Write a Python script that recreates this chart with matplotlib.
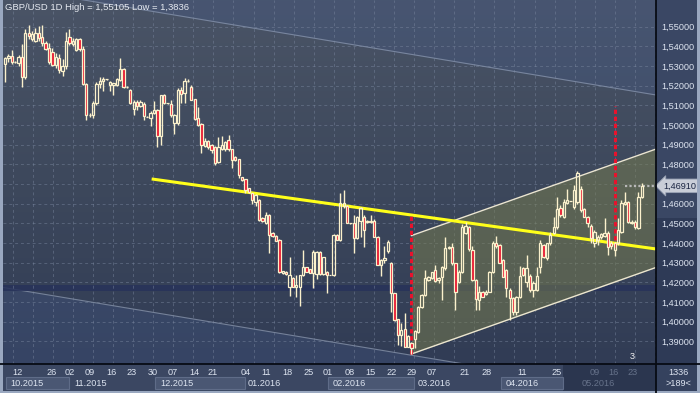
import matplotlib
matplotlib.use("Agg")
import matplotlib.pyplot as plt
import matplotlib.transforms as mtransforms
from matplotlib.colors import LinearSegmentedColormap
from matplotlib.patches import Rectangle
import numpy as np

plt.rcParams["font.family"] = ["Liberation Sans", "DejaVu Sans"]

# GBP/USD daily bars (bar 0 = first visible bar)
opens = [
    1.5310, 1.5340, 1.5350, 1.5320, 1.5315, 1.5345, 1.5245, 1.5470, 1.5440, 1.5430,
    1.5470, 1.5450, 1.5415, 1.5390, 1.5370, 1.5305, 1.5340, 1.5275, 1.5300, 1.5450,
    1.5410, 1.5380, 1.5440, 1.5385, 1.5210, 1.5050, 1.5052, 1.5110, 1.5210, 1.5225,
    1.5232, 1.5205, 1.5205, 1.5205, 1.5230, 1.5285, 1.5195, 1.5180, 1.5080, 1.5118,
    1.5095, 1.5108, 1.5043, 1.5035, 1.5060, 1.5077, 1.4945, 1.5153, 1.5110, 1.5107,
    1.5010, 1.5010, 1.5178, 1.5161, 1.5226, 1.5195, 1.5131, 1.5034, 1.5006, 1.4895,
    1.4921, 1.4899, 1.4890, 1.4814, 1.4877, 1.4877, 1.4924, 1.4877, 1.4840, 1.4826,
    1.4734, 1.4724, 1.4678, 1.4653, 1.4611, 1.4619, 1.4526, 1.4501, 1.4543, 1.4450,
    1.4437, 1.4416, 1.4250, 1.4255, 1.4176, 1.4221, 1.4176, 1.4176, 1.4238, 1.4277,
    1.4267, 1.4250, 1.4245, 1.4357, 1.4245, 1.4255, 1.4238, 1.4238, 1.4442, 1.4416,
    1.4586, 1.4586, 1.4501, 1.4501, 1.4425, 1.4510, 1.4535, 1.4505, 1.4505, 1.4510,
    1.4433, 1.4290, 1.4315, 1.4360, 1.4300, 1.4144, 1.4012, 1.3933, 1.3961, 1.3873,
    1.3891, 1.3911, 1.3950, 1.4077, 1.4136, 1.4212, 1.4221, 1.4263, 1.4212, 1.4226,
    1.4271, 1.4373, 1.4382, 1.4297, 1.4204, 1.4254, 1.4450, 1.4480, 1.4365, 1.4212,
    1.4111, 1.4153, 1.4140, 1.4153, 1.4254, 1.4399, 1.4390, 1.4314, 1.4263, 1.4161,
    1.4119, 1.4051, 1.4127, 1.4271, 1.4204, 1.4235, 1.4161, 1.4161, 1.4280, 1.4390,
    1.4322, 1.4398, 1.4449, 1.4480, 1.4576, 1.4534, 1.4605, 1.4614, 1.4585, 1.4610,
    1.4673, 1.4575, 1.4534, 1.4487, 1.4398, 1.4415, 1.4432, 1.4436, 1.4453, 1.4400,
    1.4364, 1.4398, 1.4458, 1.4600, 1.4610, 1.4503, 1.4509, 1.4475, 1.4636,
]
highs = [
    1.5345, 1.5360, 1.5380, 1.5325, 1.5355, 1.5410, 1.5490, 1.5510, 1.5480, 1.5495,
    1.5505, 1.5510, 1.5430, 1.5415, 1.5390, 1.5365, 1.5360, 1.5335, 1.5475, 1.5490,
    1.5445, 1.5445, 1.5445, 1.5400, 1.5215, 1.5060, 1.5120, 1.5220, 1.5245, 1.5245,
    1.5236, 1.5225, 1.5215, 1.5240, 1.5340, 1.5290, 1.5200, 1.5185, 1.5125, 1.5128,
    1.5125, 1.5115, 1.5046, 1.5070, 1.5120, 1.5080, 1.5155, 1.5160, 1.5112, 1.5130,
    1.5055, 1.5190, 1.5195, 1.5240, 1.5232, 1.5205, 1.5135, 1.5094, 1.5010, 1.4935,
    1.4925, 1.4902, 1.4893, 1.4941, 1.4945, 1.4920, 1.4950, 1.4880, 1.4845, 1.4830,
    1.4738, 1.4728, 1.4682, 1.4656, 1.4650, 1.4625, 1.4530, 1.4560, 1.4548, 1.4455,
    1.4440, 1.4420, 1.4260, 1.4258, 1.4330, 1.4225, 1.4238, 1.4240, 1.4365, 1.4280,
    1.4270, 1.4365, 1.4360, 1.4360, 1.4330, 1.4260, 1.4240, 1.4445, 1.4445, 1.4654,
    1.4670, 1.4595, 1.4503, 1.4545, 1.4540, 1.4585, 1.4545, 1.4515, 1.4545, 1.4520,
    1.4435, 1.4320, 1.4385, 1.4415, 1.4305, 1.4148, 1.4015, 1.3992, 1.4043, 1.3930,
    1.3895, 1.3958, 1.4080, 1.4140, 1.4265, 1.4230, 1.4255, 1.4290, 1.4225, 1.4285,
    1.4433, 1.4385, 1.4400, 1.4300, 1.4265, 1.4495, 1.4509, 1.4485, 1.4385, 1.4215,
    1.4180, 1.4158, 1.4160, 1.4260, 1.4410, 1.4435, 1.4395, 1.4320, 1.4270, 1.4170,
    1.4125, 1.4130, 1.4283, 1.4280, 1.4339, 1.4245, 1.4205, 1.4280, 1.4415, 1.4395,
    1.4400, 1.4458, 1.4534, 1.4636, 1.4593, 1.4622, 1.4673, 1.4616, 1.4695, 1.4768,
    1.4690, 1.4580, 1.4540, 1.4497, 1.4465, 1.4440, 1.4450, 1.4526, 1.4460, 1.4410,
    1.4405, 1.4526, 1.4619, 1.4661, 1.4615, 1.4515, 1.4515, 1.4661, 1.4703,
]
lows = [
    1.5220, 1.5320, 1.5310, 1.5315, 1.5300, 1.5195, 1.5235, 1.5440, 1.5425, 1.5420,
    1.5425, 1.5400, 1.5380, 1.5310, 1.5300, 1.5290, 1.5265, 1.5250, 1.5285, 1.5405,
    1.5400, 1.5375, 1.5375, 1.5205, 1.5025, 1.5040, 1.5035, 1.5100, 1.5190, 1.5175,
    1.5228, 1.5175, 1.5155, 1.5200, 1.5225, 1.5190, 1.5190, 1.5105, 1.5050, 1.5075,
    1.5090, 1.5025, 1.5040, 1.4995, 1.5055, 1.4890, 1.4900, 1.5105, 1.5108, 1.5040,
    1.4955, 1.5000, 1.5110, 1.5110, 1.5220, 1.5125, 1.5025, 1.4995, 1.4860, 1.4890,
    1.4880, 1.4860, 1.4795, 1.4805, 1.4872, 1.4870, 1.4870, 1.4780, 1.4815, 1.4729,
    1.4715, 1.4655, 1.4655, 1.4600, 1.4590, 1.4510, 1.4505, 1.4495, 1.4350, 1.4430,
    1.4410, 1.4250, 1.4245, 1.4240, 1.4130, 1.4175, 1.4125, 1.4080, 1.4230, 1.4255,
    1.4250, 1.4170, 1.4215, 1.4240, 1.4240, 1.4145, 1.4236, 1.4235, 1.4416, 1.4410,
    1.4580, 1.4500, 1.4499, 1.4350, 1.4420, 1.4430, 1.4380, 1.4500, 1.4500, 1.4430,
    1.4290, 1.4230, 1.4300, 1.4350, 1.4051, 1.4005, 1.3882, 1.3874, 1.3870, 1.3870,
    1.3836, 1.3866, 1.3945, 1.4070, 1.4130, 1.4205, 1.4215, 1.4200, 1.4195, 1.4110,
    1.4265, 1.4370, 1.4290, 1.4060, 1.4195, 1.4250, 1.4445, 1.4360, 1.4205, 1.4060,
    1.4060, 1.4128, 1.4135, 1.4150, 1.4250, 1.4375, 1.4300, 1.4225, 1.4128, 1.4009,
    1.4034, 1.4034, 1.4120, 1.4230, 1.4178, 1.4150, 1.4127, 1.4155, 1.4250, 1.4322,
    1.4315, 1.4390, 1.4445, 1.4470, 1.4530, 1.4525, 1.4600, 1.4612, 1.4575, 1.4600,
    1.4560, 1.4530, 1.4480, 1.4400, 1.4381, 1.4390, 1.4420, 1.4430, 1.4339, 1.4370,
    1.4334, 1.4390, 1.4450, 1.4595, 1.4500, 1.4498, 1.4470, 1.4470, 1.4630,
]
closes = [
    1.5340, 1.5350, 1.5320, 1.5322, 1.5345, 1.5245, 1.5470, 1.5455, 1.5465, 1.5470,
    1.5445, 1.5415, 1.5385, 1.5320, 1.5305, 1.5345, 1.5280, 1.5300, 1.5425, 1.5415,
    1.5425, 1.5440, 1.5385, 1.5210, 1.5050, 1.5052, 1.5110, 1.5210, 1.5225, 1.5232,
    1.5232, 1.5220, 1.5215, 1.5235, 1.5285, 1.5195, 1.5195, 1.5110, 1.5118, 1.5095,
    1.5115, 1.5045, 1.5043, 1.5060, 1.5077, 1.4945, 1.5153, 1.5111, 1.5110, 1.5051,
    1.5050, 1.5180, 1.5156, 1.5226, 1.5226, 1.5128, 1.5029, 1.5000, 1.4899, 1.4920,
    1.4887, 1.4873, 1.4805, 1.4887, 1.4899, 1.4916, 1.4877, 1.4823, 1.4823, 1.4746,
    1.4721, 1.4670, 1.4661, 1.4619, 1.4645, 1.4518, 1.4510, 1.4543, 1.4442, 1.4435,
    1.4413, 1.4252, 1.4258, 1.4243, 1.4238, 1.4176, 1.4185, 1.4238, 1.4277, 1.4255,
    1.4250, 1.4357, 1.4357, 1.4245, 1.4330, 1.4238, 1.4238, 1.4442, 1.4418, 1.4603,
    1.4603, 1.4501, 1.4501, 1.4425, 1.4535, 1.4577, 1.4467, 1.4510, 1.4510, 1.4433,
    1.4290, 1.4315, 1.4324, 1.4405, 1.4144, 1.4009, 1.3933, 1.3958, 1.3873, 1.3925,
    1.3866, 1.3953, 1.4077, 1.4136, 1.4221, 1.4226, 1.4254, 1.4207, 1.4221, 1.4280,
    1.4373, 1.4382, 1.4297, 1.4153, 1.4254, 1.4483, 1.4487, 1.4370, 1.4212, 1.4114,
    1.4153, 1.4128, 1.4153, 1.4254, 1.4399, 1.4385, 1.4300, 1.4229, 1.4170, 1.4119,
    1.4051, 1.4127, 1.4232, 1.4237, 1.4271, 1.4161, 1.4198, 1.4232, 1.4398, 1.4330,
    1.4398, 1.4441, 1.4483, 1.4571, 1.4543, 1.4610, 1.4619, 1.4614, 1.4670, 1.4758,
    1.4568, 1.4534, 1.4500, 1.4424, 1.4458, 1.4432, 1.4446, 1.4453, 1.4381, 1.4385,
    1.4398, 1.4466, 1.4602, 1.4610, 1.4509, 1.4509, 1.4480, 1.4636, 1.4691,
]

# time scale (positions in bar units)
week_pos = [3.8, 13.8, 19.2, 25.0, 31.3, 37.5, 43.7, 49.6, 55.8, 61.4, 71.2, 77.1, 83.3, 89.5,
            95.4, 101.9, 107.8, 114.0, 120.1, 126.1, 135.8, 142.3, 152.6, 163.0, 174.2, 179.5, 185.4]
week_labels = ["12", "26", "02", "09", "16", "23", "30", "07", "14", "21", "04", "11", "18", "25",
               "01", "08", "15", "22", "29", "07", "21", "28", "11", "25", "09", "16", "23"]
month_edges = [0.3, 18.9, 44.3, 70.9, 95.4, 120.8, 146.4, 164.7, 192.2]
month_text_x = [1.5, 20.4, 45.8, 71.7, 96.8, 121.9, 147.9, 170.1]
month_labels = ["10.2015", "11.2015", "12.2015", "01.2016", "02.2016", "03.2016", "04.2016", "05.2016"]
month_boxed = [True, False, True, False, True, False, True, False]
dim_from = 164.7

# grid levels; the 1,47000 label sits under the last-price tag and is not shown
grid_levels = [1.39, 1.40, 1.41, 1.42, 1.43, 1.44, 1.45, 1.46, 1.47, 1.48, 1.49,
               1.50, 1.51, 1.52, 1.53, 1.54, 1.55]
label_levels = [1.39, 1.40, 1.41, 1.42, 1.43, 1.44, 1.45, 1.46, 1.48, 1.49,
                1.50, 1.51, 1.52, 1.53, 1.54, 1.55]

# drawn objects (bar, price)
desc_upper = ([23.3, 192.2], [1.5636, 1.5153])
desc_lower = ([-1.5, 192.2], [1.4177, 1.3623])
zone = (1.4157, 1.4187)
chan_x = [120.0, 192.2]
chan_lower = [1.3836, 1.4276]
chan_upper = [1.4438, 1.4878]
trend_x = [43.3, 192.2]
trend_y = [1.4726, 1.4370]
moves = [(120.0, 1.4543, 1.3836), (180.1, 1.5096, 1.4380)]
last_line_from = 183.0

W, H = 700, 393
XMIN, XMAX = -0.59, 192.2
YMIN, YMAX = 1.3785, 1.5636

CREAM = "#fbf1cc"
RED = "#e8122c"
TXT = "#dde4f0"
DIM = "#66728a"


def box(x0, y0, x1, y1):
    return [x0 / W, 1 - y1 / H, (x1 - x0) / W, (y1 - y0) / H]


def along(pts_x, pts_y, x):
    x = np.asarray(x, dtype=float)
    return pts_y[0] + (pts_y[1] - pts_y[0]) * (x - pts_x[0]) / (pts_x[1] - pts_x[0])


fig = plt.figure(figsize=(7.0, 3.93), dpi=100)
fig.patch.set_facecolor("#34415d")

# panels behind everything
frame = fig.add_axes([0, 0, 1, 1], zorder=0)
frame.set_xlim(0, W)
frame.set_ylim(H, 0)
frame.axis("off")
frame.add_patch(Rectangle((656, 0), 44, 218, color="#3a4764", lw=0))
frame.add_patch(Rectangle((656, 218), 44, 146, color="#2e3a56", lw=0))
frame.add_patch(Rectangle((0, 364), 700, 29, color="#3b4762", lw=0))
frame.add_patch(Rectangle((656, 364), 44, 29, color="#35425e", lw=0))

# main price pane
ax = fig.add_axes(box(3, 0, 656, 364), zorder=1)
ax.set_xlim(XMIN, XMAX)
ax.set_ylim(YMIN, YMAX)
for s in ax.spines.values():
    s.set_visible(False)

grad = np.linspace(0, 1, 256).reshape(-1, 1)
bg = LinearSegmentedColormap.from_list("bg", ["#313c55", "#3d485c", "#4a5466"])
ax.imshow(grad, extent=[XMIN, XMAX, YMIN, YMAX], origin="lower", cmap=bg,
          aspect="auto", zorder=0, interpolation="bilinear")

# big falling channel: area outside it is tinted blue
xs = np.array([XMIN, XMAX])
ax.fill_between(xs, along(*desc_upper, xs), YMAX + 0.05, color="#43598a", alpha=0.3, lw=0, zorder=0.5)
ax.fill_between(xs, YMIN - 0.05, along(*desc_lower, xs), color="#43598a", alpha=0.3, lw=0, zorder=0.5)
ax.plot(xs, along(*desc_upper, xs), color="#8592aa", lw=0.8, alpha=0.8, zorder=0.6)
ax.plot(xs, along(*desc_lower, xs), color="#8592aa", lw=0.8, alpha=0.8, zorder=0.6)

ax.axhspan(zone[0], zone[1], color="#27325a", alpha=0.85, lw=0, zorder=0.7)

# grid
for lv in grid_levels:
    ax.axhline(lv, color="#7d8aa2", lw=0.7, ls=(0, (3, 3)), alpha=0.45, zorder=0.8)
for gx in np.arange(2.27, XMAX, 5.926):
    ax.axvline(gx, color="#7d8aa2", lw=0.7, ls=(0, (3, 3)), alpha=0.45, zorder=0.8)

# rising channel
ax.fill_between(chan_x, chan_lower, chan_upper, color="#7a7f4f", alpha=0.5, lw=0, zorder=1)
ax.plot(chan_x, chan_lower, color="#ece6d0", lw=1.0, zorder=1.2)
ax.plot(chan_x, chan_upper, color="#ece6d0", lw=1.0, zorder=1.2)

ax.plot(trend_x, trend_y, color="#ffff1a", lw=2.2, zorder=1.5, solid_capstyle="butt")

for mx, top, bot in moves:
    ax.vlines(mx, bot, top, colors=RED, lw=2.2, linestyles=(0, (1.4, 0.9)), zorder=1.6)

# candles
o = np.array(opens)
h = np.array(highs)
l = np.array(lows)
c = np.array(closes)
idx = np.arange(len(c))
body_top = np.maximum(o, c)
body_bot = np.minimum(o, c)
ax.vlines(idx, body_top, h, colors=CREAM, lw=1.0, zorder=3)
ax.vlines(idx, l, body_bot, colors=CREAM, lw=1.0, zorder=3)
faces = [RED if cc < oo else "none" for oo, cc in zip(o, c)]
ax.bar(idx, body_top - body_bot, bottom=body_bot, width=0.68, color=faces,
       edgecolor=CREAM, linewidth=0.9, zorder=4)

ax.hlines(c[-1], last_line_from, XMAX, colors="#b8b8b8", lw=1.6, linestyles=(0, (1, 1)), zorder=2)
ax.text(185.1, 1.3821, "3", color="#f2f2f2", fontsize=6.6, ha="center", va="center", zorder=5)

# price scale on the right
ax.set_xticks([])
ax.set_yticks(label_levels)
ax.set_yticklabels([f"{v:.5f}".replace(".", ",") for v in label_levels])
ax.yaxis.tick_right()
ax.tick_params(axis="y", length=0, pad=3.5, labelsize=6.6, labelcolor=TXT)

tr = mtransforms.blended_transform_factory(ax.transAxes, ax.transData)
ax.text(1.0 + 7 / 653, c[-1], f"{c[-1]:.5f}".replace(".", ","), transform=tr,
        ha="left", va="center", fontsize=6.6, color="#1b2643", zorder=10, clip_on=False,
        bbox=dict(boxstyle="larrow,pad=0.25", fc="#c9ced8", ec="#9aa3b5", lw=0.6))

# time scale
axb = fig.add_axes(box(3, 364, 656, 393), zorder=1, sharex=ax)
axb.set_ylim(393, 364)
axb.axis("off")
axb.add_patch(Rectangle((dim_from, 364), XMAX - dim_from, 29, color="#2b364f", lw=0))
for i, name in enumerate(month_labels):
    if month_boxed[i]:
        axb.add_patch(Rectangle((month_edges[i], 377.3), month_edges[i + 1] - month_edges[i], 11.7,
                                fc="#4a5773", ec="#5f6c88", lw=0.8))
    col = DIM if month_text_x[i] >= dim_from else TXT
    axb.text(month_text_x[i], 383.2, name, ha="left", va="center", fontsize=6.6, color=col)
for xp, lab in zip(week_pos, week_labels):
    col = DIM if xp >= dim_from else TXT
    axb.text(xp, 372.3, lab, ha="center", va="center", fontsize=6.6, color=col)

# frame lines and captions on top
over = fig.add_axes([0, 0, 1, 1], zorder=3)
over.set_xlim(0, W)
over.set_ylim(H, 0)
over.axis("off")
over.plot([656, 656], [0, 393], color="#070b14", lw=1.3)
over.plot([0, 700], [364, 364], color="#070b14", lw=1.3)
over.add_patch(Rectangle((0, 0), 3, 393, color="#9aa8c0", lw=0))
over.add_patch(Rectangle((697, 0), 3, 393, color="#9aa8c0", lw=0))
over.add_patch(Rectangle((0, 391), 700, 2, color="#9aa8c0", lw=0))
over.text(5, 8, "GBP/USD 1D High = 1,55105 Low = 1,3836", ha="left", va="center",
          fontsize=6.8, color="#e6eaf1")
over.text(678, 372.3, "1336", ha="center", va="center", fontsize=6.6, color=TXT)
over.text(678, 383.5, ">189<", ha="center", va="center", fontsize=6.6, color=TXT)

fig.savefig("out.png", dpi=100, facecolor=fig.get_facecolor())
